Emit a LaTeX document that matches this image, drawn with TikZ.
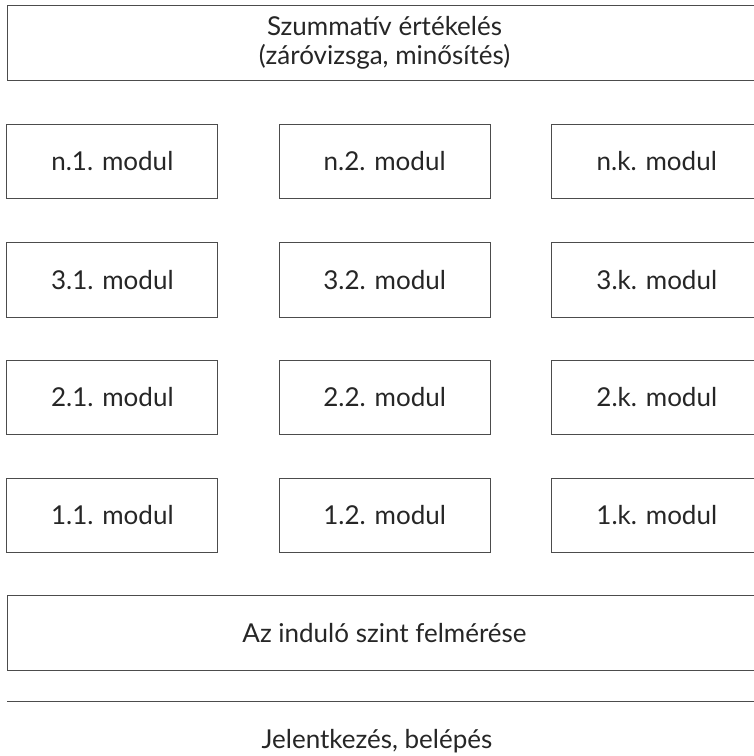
\documentclass[tikz,border=0pt]{standalone}
\usepackage{fontspec}
\setmainfont{Lato}
\begin{document}
\begin{tikzpicture}[x=1pt,y=-1pt,
  modbox/.style={draw=black!70,line width=1pt,minimum width=211pt,minimum height=74.7pt,
    inner sep=0pt,text=black!85,font=\fontsize{26}{29}\selectfont},
  widebox/.style={modbox,minimum width=755pt,align=center}]
  \useasboundingbox (0,0) rectangle (754,756);
  % top and bottom bars
  \node[widebox] (szumm) at (384.5,42.85) {Szummatív értékelés\\(záróvizsga, minősítés)};
  \node[widebox] (indulo) at (384.5,633) {Az induló szint felmérése};
  % module grid
  \foreach \r/\y in {n/161.35,3/279.65,2/397.35,1/515.5} {
    \node[modbox] (m\r1) at (112.35,\y) {\r.1. modul};
    \node[modbox] (m\r2) at (384.65,\y) {\r.2. modul};
    \node[modbox] (m\r k) at (656.8,\y) {\r.k. modul};
  }
  \coordinate (vonalA) at (7,701.3);
  \coordinate (vonalB) at (754,701.3);
  \draw[black!70,line width=1pt] (vonalA) -- (vonalB);
  \node[text=black!85,font=\fontsize{26}{29}\selectfont] (jel) at (377,741) {Jelentkezés, belépés};
\end{tikzpicture}
\end{document}
